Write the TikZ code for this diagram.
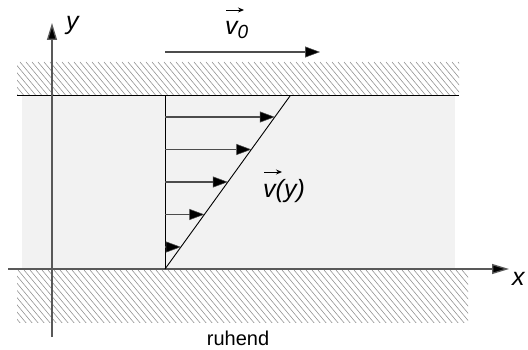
\documentclass[tikz,border=0pt]{standalone}
\usepackage{fontspec}
\setmainfont{Liberation Sans}
\usetikzlibrary{arrows.meta}
\begin{document}
\begin{tikzpicture}[x=1pt,y=-1pt,
  lbl/.style={font=\fontsize{25}{28}\selectfont\itshape, inner sep=0pt},
  arr/.style={draw=black!70, line width=1.5pt, -{Triangle[length=15pt,width=11pt,fill=black,line width=0.5pt]}},
  axis/.style={draw=black!65, line width=1.3pt, -{Triangle[length=17pt,width=10pt,fill=black]}},
  wall/.style={draw=black, line width=1.2pt},
  hatch/.style={draw=black!45, line width=0.55pt},
  vecarr/.style={draw=black, line width=0.9pt, -{Stealth[length=6pt,width=5pt]}}]
\useasboundingbox (0,0) rectangle (528,350);
% fluid
\fill[black!5] (22,96) rectangle (455,269);
% hatches
\begin{scope}
  \clip (17,62) rectangle (459,95);
  \foreach \i in {-40,-34,...,470} \draw[hatch] (\i,62) -- ++(30,36);
\end{scope}
\begin{scope}
  \clip (17,270) rectangle (468,322);
  \foreach \i in {-60,-54,...,480} \draw[hatch] (\i,270) -- ++(45,54);
\end{scope}
% walls and axes
\coordinate (wt1) at (17,95.5);
\coordinate (wt2) at (459,95.5);
\draw[wall] (wt1) -- (wt2);
\coordinate (xa0) at (8,269);
\coordinate (xa1) at (509,269);
\draw[axis] (xa0) -- (xa1);
\coordinate (ya0) at (52,337);
\coordinate (ya1) at (52,23);
\draw[axis] (ya0) -- (ya1);
% profile
\coordinate (p0) at (165,269);
\coordinate (p1) at (165,96);
\coordinate (s1) at (290,96);
\draw[black, line width=0.9pt] (p0) -- (p1);
\draw[black, line width=0.9pt] (p0) -- (s1);
\foreach \y [count=\k] in {117,149.5,182,214.5,247} {
  \pgfmathsetmacro{\tx}{165+(269-\y)/173*125}
  \coordinate (a\k) at (165,\y);
  \coordinate (b\k) at (\tx,\y);
  \draw[arr] (a\k) -- (b\k);
}
% v0 arrow
\coordinate (v0a) at (165,52);
\coordinate (v0b) at (320,52);
\draw[arr] (v0a) -- (v0b);
% labels
\node[lbl, anchor=base west] (ylab) at (66,29.5) {y};
\node[lbl, anchor=base west] (v0lab) at (225,35) {v\raisebox{-0.3ex}{\fontsize{19}{19}\selectfont 0}};
\coordinate (v0arA) at (226,10);
\coordinate (v0arB) at (244,10);
\draw[vecarr] (v0arA) -- (v0arB);
\node[lbl, anchor=base west] (vylab) at (263,198) {v(y)};
\coordinate (vyarA) at (264,172);
\coordinate (vyarB) at (282,172);
\draw[vecarr] (vyarA) -- (vyarB);
\node[lbl, anchor=base west] (xlab) at (512,285) {x};
\node[font=\fontsize{20}{24}\selectfont, inner sep=0pt, anchor=base] (ruh) at (238,345) {ruhend};
\end{tikzpicture}
\end{document}
